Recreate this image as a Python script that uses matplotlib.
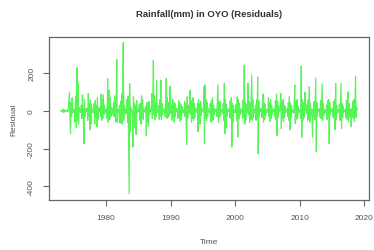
import numpy as np
import matplotlib
matplotlib.use("Agg")
import matplotlib.pyplot as plt

plt.rcParams['font.family'] = ['Liberation Sans', 'DejaVu Sans']

start_year = 1973
# Monthly residuals, one row per year (Jan..Dec)
residuals_by_year = {
    1973: [0, 2, -3, 5, -8, 10, -6, 4, -5, 3, 0, -2],
    1974: [3, -5, 20, 60, 100, -40, -120, 45, -30, 70, -10, 5],
    1975: [-4, 10, -60, 40, 80, -90, 230, -50, 150, -70, 20, -5],
    1976: [6, -8, 30, -40, 85, 20, -60, -175, 60, -30, 10, 2],
    1977: [-3, 15, -50, 92, -30, 40, -100, 60, -70, 35, -8, 4],
    1978: [5, -10, 40, -70, 55, -40, 30, -85, 70, -45, 15, -3],
    1979: [-2, 20, -30, 90, -50, 60, -40, 85, -20, 30, -12, 6],
    1980: [4, 15, -40, 172, -60, 45, 110, -45, 70, -30, 20, -5],
    1981: [10, -20, 45, -30, 80, 25, -60, 40, 274, -60, -15, 5],
    1982: [-8, 30, -65, 50, -40, 90, -70, 120, 363, -50, 30, -5],
    1983: [6, -15, 40, 60, -60, 80, -200, -441, 145, -110, 20, 0],
    1984: [5, -20, -192, 75, -60, 40, -90, 30, -125, 55, -10, 3],
    1985: [-4, 10, 35, -50, 40, -70, 80, -30, 60, -45, 15, -2],
    1986: [3, -8, 25, -130, 45, -60, 30, -80, 50, -20, 10, 4],
    1987: [-5, 92, -40, 60, 270, -20, 80, -45, 40, -30, 160, -3],
    1988: [4, -10, 30, -45, 60, -30, 164, -45, 40, -20, 8, 2],
    1989: [-3, 12, -30, 50, 172, -40, 70, -35, 45, -25, 10, 130],
    1990: [5, -15, 30, -50, 60, -35, 45, -60, 40, -30, 15, 3],
    1991: [-4, 10, -40, 55, -30, 45, -55, 35, -45, 25, -8, 2],
    1992: [3, -10, 50, -30, 40, -60, -180, 75, -40, 30, -12, 4],
    1993: [110, -20, 35, -60, 55, -40, 70, -50, 40, -35, 15, -3],
    1994: [4, -8, 40, -110, 60, -45, 35, -70, 50, -25, 10, 2],
    1995: [-5, 15, 128, -175, 138, -40, 60, -50, 45, -30, 12, -4],
    1996: [3, -12, 40, -60, 55, -45, 70, -50, 30, -20, 10, 2],
    1997: [-4, 10, -30, 60, 138, -60, 45, -35, 50, -25, 8, -2],
    1998: [5, -15, 40, -50, 146, -120, 60, -90, 35, -30, 12, 3],
    1999: [-3, 10, -35, 55, -40, 70, -192, 40, -60, 30, -10, 4],
    2000: [4, -10, 35, -50, 75, -139, 60, -45, 40, -20, 10, -3],
    2001: [-5, 12, -40, 60, -30, 243, -70, 45, -50, 35, -8, 2],
    2002: [146, -20, 50, -60, 40, -45, 70, 190, -50, 60, -35, 10],
    2003: [3, -12, 30, -50, 60, -40, 180, -228, 55, -30, 15, -2],
    2004: [-4, 10, -35, 50, 90, -60, 40, -45, 35, -25, 8, 3],
    2005: [5, -8, 70, -30, 45, -55, 60, -40, 30, -20, 10, -3],
    2006: [-3, 12, -30, 55, -45, 90, -130, 50, -35, 25, -6, 2],
    2007: [4, 92, -94, 45, -40, 60, -55, 30, -35, 25, -10, 3],
    2008: [-4, 10, -30, 45, -50, 75, -100, 40, -35, 30, -8, 2],
    2009: [5, -10, 40, 138, -68, 50, -45, 60, -40, 25, -12, 3],
    2010: [-3, 8, -40, 238, -140, 60, -50, 45, -35, 20, 100, 2],
    2011: [4, -12, 35, -50, 60, -45, 128, -60, 40, -25, 10, -3],
    2012: [-139, 10, -30, 50, -45, 60, 175, -218, 45, -30, 12, 3],
    2013: [-4, 10, -35, 55, -40, 60, 145, -50, 40, -25, 8, -2],
    2014: [3, -10, 30, -45, 55, -35, 60, -175, 45, -20, 10, 2],
    2015: [-3, 12, -30, 50, -40, 60, -100, 145, -45, 30, -10, 3],
    2016: [4, -8, 35, -50, 45, 146, -94, 40, -35, 25, -8, 2],
    2017: [-3, 10, -35, 55, -45, 60, 101, -55, 40, -30, 10, -2],
    2018: [-85, 12, -30, 50, -40, 60, -55, 45, 185, -35, 20, 5],
}
x_ticks = [1980, 1990, 2000, 2010, 2020]
y_ticks = [-400, -200, 0, 200]
title = "Rainfall(mm) in OYO (Residuals)"

values = np.concatenate([residuals_by_year[y] for y in sorted(residuals_by_year)])
t = start_year + np.arange(len(values)) / 12.0

W, H = 374, 251
fig = plt.figure(figsize=(W / 100, H / 100), dpi=100)
ax = fig.add_axes([49 / W, 1 - 201 / H, (369 - 49) / W, (201 - 37.5) / H])

ax.plot(t, values, color='#55f555', lw=0.85)

# R-style 4% padding
xr = t.max() - t.min()
ax.set_xlim(t.min() - 0.04 * xr, t.max() + 0.04 * xr)
yr = values.max() - values.min()
ax.set_ylim(values.min() - 0.04 * yr, values.max() + 0.04 * yr)

ax.set_xticks(x_ticks)
ax.set_yticks(y_ticks)
ax.set_yticklabels([str(v) for v in y_ticks], rotation=90, va='center')
for s in ax.spines.values():
    s.set_color('#666666')
    s.set_linewidth(0.9)
ax.tick_params(axis='both', direction='out', length=4, width=0.8, color='#666666',
               labelsize=6, labelcolor='#555555', pad=6)

ax.set_xlabel("Time", fontsize=6, color='#555555', labelpad=12)
ax.set_ylabel("Residual", fontsize=6, color='#555555', labelpad=8)
fig.text((49 + 369) / 2 / W, 1 - 15 / H, title, ha='center', va='center',
         fontsize=6.8, fontweight='bold', color='#333333')

fig.savefig("out.png", dpi=100)
